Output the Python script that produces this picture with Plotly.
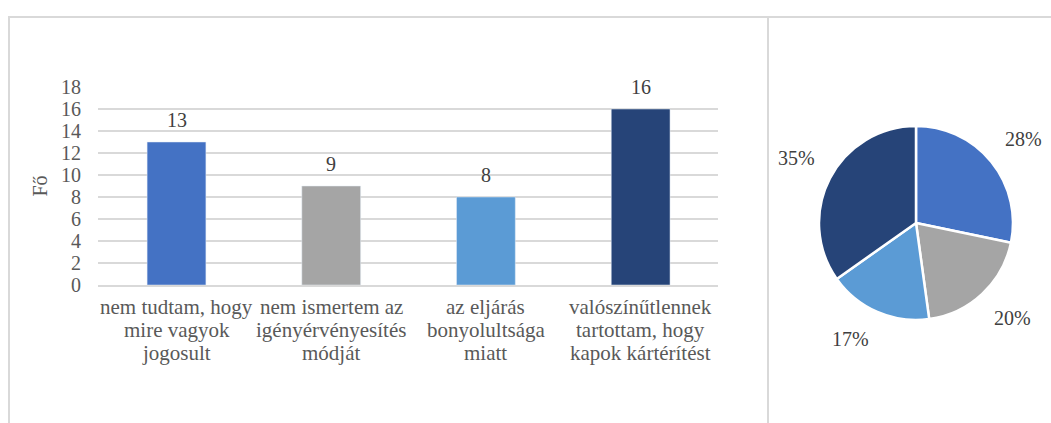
import math
import plotly.graph_objects as go

categories = [
    "nem tudtam, hogy<br>mire vagyok<br>jogosult",
    "nem ismertem az<br>igényérvényesítés<br>módját",
    "az eljárás<br>bonyolultsága<br>miatt",
    "valószínűtlennek<br>tartottam, hogy<br>kapok kártérítést",
]
values = [13, 9, 8, 16]
colors = ["#4472C4", "#A5A5A5", "#5B9BD5", "#264478"]
y_ticks = [0, 2, 4, 6, 8, 10, 12, 14, 16, 18]
y_title = "Fő"

W, H = 1051, 423
FONT = "Liberation Serif"
FS = 20
CAT_FS = 21
TXT = "#595959"

# pie placement (pixels)
PCX, PCY, PR = 916, 223, 97
LABEL_GAP = 15

# category label lines (pixels from top)
CAT_Y0, CAT_DY = 307, 23

fig = go.Figure()
fig.add_trace(go.Bar(
    x=categories, y=values, marker_color=colors, width=0.38,
    cliponaxis=False, showlegend=False, hoverinfo="skip",
))
for c, v in zip(categories, values):
    fig.add_annotation(x=c, y=v, xref="x", yref="y", text=str(v), showarrow=False,
                       yanchor="middle", yshift=22,
                       font=dict(family=FONT, size=FS, color="#404040"))
    for i, ln in enumerate(c.split("<br>")):
        fig.add_annotation(x=c, y=(H - CAT_Y0 - i * CAT_DY) / H, xref="x", yref="paper",
                           text=ln, showarrow=False, xanchor="center", yanchor="middle",
                           font=dict(family=FONT, size=CAT_FS, color=TXT))

fig.add_trace(go.Pie(
    values=values, marker=dict(colors=colors, line=dict(color="white", width=2.5)),
    sort=False, direction="clockwise", rotation=0, textinfo="none",
    domain=dict(x=[(PCX - PR) / W, (PCX + PR) / W], y=[(H - PCY - PR) / H, (H - PCY + PR) / H]),
    showlegend=False, hoverinfo="skip", automargin=False,
))

# outside-end percentage labels, placed along each slice's mid-angle
total = sum(values)
cum = 0
for v in values:
    mid = (cum + v / 2) / total * 2 * math.pi
    cum += v
    s, co = math.sin(mid), math.cos(mid)
    px = PCX + (PR + LABEL_GAP) * s
    py = PCY - (PR + LABEL_GAP) * co
    fig.add_annotation(
        x=px / W, y=(H - py) / H, xref="paper", yref="paper",
        text=f"{round(v / total * 100)}%", showarrow=False,
        xanchor="left" if s >= 0 else "right",
        yanchor="bottom" if co >= 0 else "top",
        font=dict(family=FONT, size=FS, color="#404040"),
    )

line = dict(color="#D9D9D9", width=2)
fig.update_layout(
    width=W, height=H, autosize=False,
    margin=dict(l=0, r=0, t=0, b=0, pad=0, autoexpand=False),
    paper_bgcolor="white", plot_bgcolor="white",
    font=dict(family=FONT, size=FS, color=TXT),
    xaxis=dict(domain=[98 / W, 718 / W], showgrid=False, showline=True,
               linecolor="#D9D9D9", linewidth=1.5, ticks="", automargin=False,
               showticklabels=False),
    yaxis=dict(domain=[(H - 285) / H, (H - 87) / H], range=[0, 18],
               tickvals=y_ticks, showgrid=True, gridcolor="#D9D9D9", gridwidth=1.5,
               zeroline=False, showline=False, ticklabelstandoff=16, automargin=False,
               tickfont=dict(family=FONT, size=FS, color=TXT),
               title=dict(text=y_title, standoff=8,
                          font=dict(family=FONT, size=FS, color=TXT))),
    shapes=[
        dict(type="line", xref="paper", yref="paper", x0=8 / W, x1=1, y0=(H - 17) / H, y1=(H - 17) / H, line=line),
        dict(type="line", xref="paper", yref="paper", x0=9 / W, x1=9 / W, y0=0, y1=(H - 17) / H, line=line),
        dict(type="line", xref="paper", yref="paper", x0=768 / W, x1=768 / W, y0=0, y1=(H - 17) / H, line=line),
    ],
)
fig.write_html("out.html")
